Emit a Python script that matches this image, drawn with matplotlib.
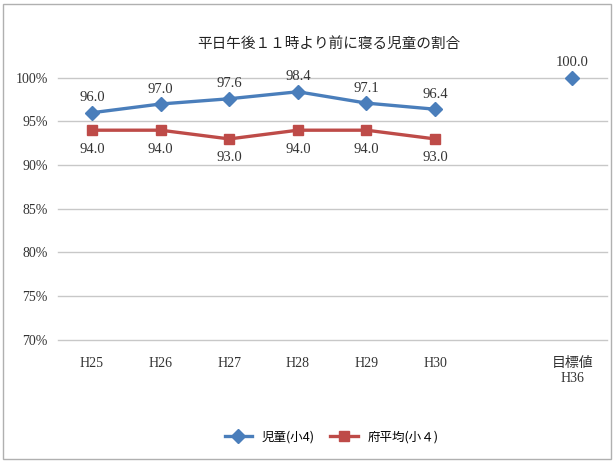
import matplotlib
matplotlib.use("Agg")
import matplotlib.pyplot as plt
import numpy as np
from matplotlib.patches import Rectangle
from matplotlib.ticker import FuncFormatter

plt.rcParams["font.family"] = ["Liberation Serif", "Noto Sans CJK JP"]

categories = ["H25", "H26", "H27", "H28", "H29", "H30", "", "目標値\nH36"]
children = [96.0, 97.0, 97.6, 98.4, 97.1, 96.4, None, 100.0]
prefecture = [94.0, 94.0, 93.0, 94.0, 94.0, 93.0, None, None]
yticks = [70, 75, 80, 85, 90, 95, 100]

blue = "#4a7ebb"
red = "#be4b48"

fig = plt.figure(figsize=(6.14, 4.63), dpi=100)
ax = fig.add_axes([0.094, 0.266, 0.894, 0.566])

x = np.arange(len(categories))
c = np.array([np.nan if v is None else v for v in children], dtype=float)
p = np.array([np.nan if v is None else v for v in prefecture], dtype=float)

ax.plot(x, c, color=blue, linewidth=2.4, marker="D", markersize=7.5, label="児童(小4)", zorder=3,
        clip_on=False)
ax.plot(x, p, color=red, linewidth=2.4, marker="s", markersize=7.5, label="府平均(小４)", zorder=3)

for xi, v in zip(x, c):
    if not np.isnan(v):
        ax.annotate(f"{v:.1f}", (xi, v), xytext=(0, 6), textcoords="offset points",
                    ha="center", va="bottom", fontsize=10.5, color="#333333", annotation_clip=False)
for xi, v in zip(x, p):
    if not np.isnan(v):
        ax.annotate(f"{v:.1f}", (xi, v), xytext=(0, -9), textcoords="offset points",
                    ha="center", va="top", fontsize=10.5, color="#333333")

ax.set_xlim(-0.5, len(categories) - 0.5)
ax.set_ylim(70, 100)
ax.set_yticks(yticks)
ax.yaxis.set_major_formatter(FuncFormatter(lambda v, _: f"{v:.0f}%"))
ax.set_xticks(x)
ax.set_xticklabels(categories, fontsize=10, color="#333333")
ax.tick_params(axis="y", labelsize=10, colors="#333333", length=0, pad=7)
ax.tick_params(axis="x", length=0, pad=12)
for t in yticks:
    ax.axhline(t, color="#c8c8c8", linewidth=1, zorder=0, clip_on=False)
for s in ax.spines.values():
    s.set_visible(False)

fig.text(0.535, 0.905, "平日午後１１時より前に寝る児童の割合", ha="center", va="center",
         fontsize=10.5, color="#222222", family=["Noto Sans CJK JP"])

fig.legend(loc="center", bbox_to_anchor=(0.54, 0.056), ncol=2, frameon=False,
           handlelength=2.2, columnspacing=1.2, prop={"family": ["Noto Sans CJK JP"], "size": 9})

fig.patches.append(Rectangle((0.005, 0.008), 0.99, 0.984, transform=fig.transFigure,
                             fill=False, edgecolor="#b0b0b0", linewidth=1))

fig.savefig("out.png", dpi=100, facecolor="white")
